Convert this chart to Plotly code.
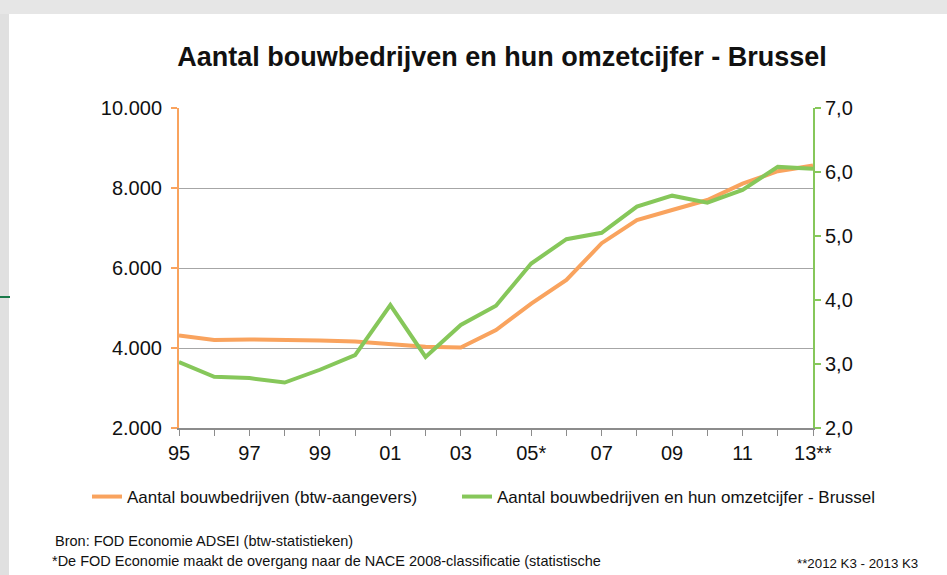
import plotly.graph_objects as go

years = list(range(19))
year_ticks = ["95", "", "97", "", "99", "", "01", "", "03", "", "05*", "", "07", "", "09", "", "11", "", "13**"]
bedrijven = [4310, 4200, 4215, 4215, 4190, 4160, 4100, 4030, 4010, 4450, 5110, 5700, 6620, 7200, 7450, 7700, 8110, 8420, 8560]
omzet = [3.03, 2.80, 2.78, 2.71, 2.91, 3.14, 3.92, 3.11, 3.61, 3.91, 4.57, 4.95, 5.05, 5.46, 5.63, 5.52, 5.72, 6.08, 6.05]

ORANGE = "#F9A35E"
GREEN = "#86C75A"
FONT = "Liberation Sans, Arial, sans-serif"

# plot area in pixels: x 179..813, y 108..428
PW, PH = 634, 320
def px(x):
    return (x - 179) / PW
def py(y):
    return (428 - y) / PH

fig = go.Figure()
fig.add_trace(go.Scatter(x=years, y=bedrijven, mode="lines", name="Aantal bouwbedrijven (btw-aangevers)",
                         line=dict(color=ORANGE, width=4), yaxis="y", legendwidth=325))
fig.add_trace(go.Scatter(x=years, y=omzet, mode="lines", name="Aantal bouwbedrijven en hun omzetcijfer - Brussel",
                         line=dict(color=GREEN, width=4), yaxis="y2", legendwidth=395))

fig.update_layout(
    width=947, height=575,
    margin=dict(l=179, r=134, t=108, b=147),
    paper_bgcolor="white", plot_bgcolor="white",
    separators=",.",
    font=dict(family=FONT, color="#111111"),
    title=dict(text="<b>Aantal bouwbedrijven en hun omzetcijfer - Brussel</b>",
               x=502/947, xanchor="center", y=1-57/575, yanchor="middle",
               font=dict(size=27, family=FONT, color="#111111")),
    xaxis=dict(range=[0, 18], tickvals=years, ticktext=year_ticks, showgrid=False,
               showline=True, linecolor="#8c8c8c", linewidth=2,
               ticks="outside", ticklen=6, tickcolor="#8c8c8c", tickwidth=1,
               ticklabelstandoff=0,
               tickfont=dict(size=20), zeroline=False),
    yaxis=dict(range=[2000, 10000], tickvals=[2000, 4000, 6000, 8000, 10000],
               tickformat=",d", showgrid=True, gridcolor="#a6a6a6", gridwidth=1,
               showline=True, linecolor=ORANGE, linewidth=2,
               ticks="outside", ticklen=6, tickcolor=ORANGE, tickwidth=2,
               ticklabelstandoff=5,
               tickfont=dict(size=20), zeroline=False),
    yaxis2=dict(range=[2, 7], tickvals=[2, 3, 4, 5, 6, 7], tickformat=".1f",
                overlaying="y", side="right", showgrid=False,
                showline=True, linecolor=GREEN, linewidth=2,
                ticks="outside", ticklen=6, tickcolor=GREEN, tickwidth=2,
                tickfont=dict(size=20), zeroline=False),
    legend=dict(orientation="h", xref="paper", yref="paper",
                x=px(87), xanchor="left", y=py(497), yanchor="middle",
                font=dict(size=17), itemwidth=30, bgcolor="rgba(0,0,0,0)"),
    showlegend=True,
)

fig.add_annotation(text="Bron: FOD Economie ADSEI (btw-statistieken)", xref="paper", yref="paper",
                   x=px(53), y=py(541), xanchor="left", yanchor="middle",
                   showarrow=False, font=dict(size=14.5))
fig.add_annotation(text="*De FOD Economie maakt de overgang naar de NACE 2008-classificatie (statistische",
                   xref="paper", yref="paper", x=px(50), y=py(561),
                   xanchor="left", yanchor="middle", showarrow=False, font=dict(size=14.5))
fig.add_annotation(text="**2012 K3 - 2013 K3", xref="paper", yref="paper", x=px(920), y=py(563),
                   xanchor="right", yanchor="middle", showarrow=False, font=dict(size=13.3))

# page frame: shadow at top and left edge
fig.add_shape(type="rect", xref="paper", yref="paper", x0=px(0), x1=px(947),
              y0=py(14), y1=py(0), fillcolor="#e6e6e6", line_width=0, layer="below")
fig.add_shape(type="rect", xref="paper", yref="paper", x0=px(0), x1=px(9),
              y0=py(575), y1=py(14), fillcolor="#e0e0e0", line_width=0, layer="below")
fig.add_shape(type="line", xref="paper", yref="paper", x0=px(0), x1=px(10),
              y0=py(297), y1=py(297), line=dict(color="#1a7a4a", width=2))

fig.write_html("out.html", config={"displayModeBar": False},
               post_script="document.body.style.margin='0';")
